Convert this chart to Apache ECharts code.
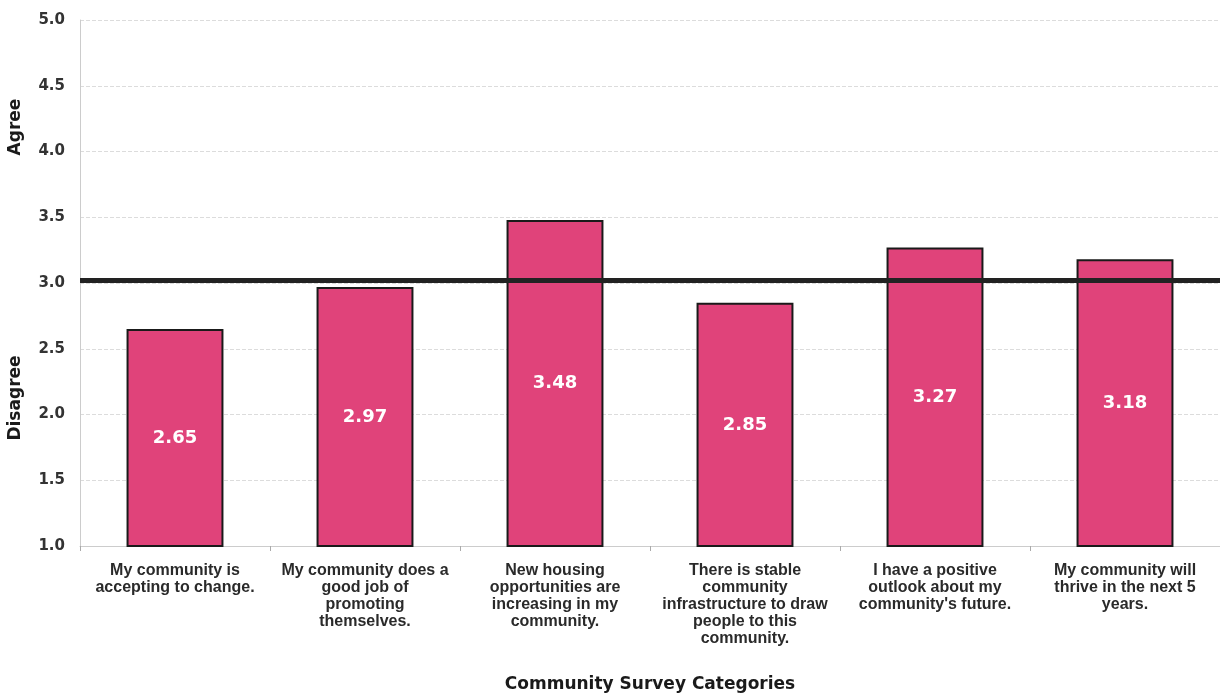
<!DOCTYPE html>
<html><head><meta charset="utf-8">
<script src="https://cdn.jsdelivr.net/npm/echarts@6/dist/echarts.min.js"></script>
<style>html,body{margin:0;padding:0;background:#fff}#c{width:1220px;height:695px}</style>
</head><body><div id="c"></div>
<script>
var categories = [
  "My community is\naccepting to change.",
  "My community does a\ngood job of\npromoting\nthemselves.",
  "New housing\nopportunities are\nincreasing in my\ncommunity.",
  "There is stable\ncommunity\ninfrastructure to draw\npeople to this\ncommunity.",
  "I have a positive\noutlook about my\ncommunity's future.",
  "My community will\nthrive in the next 5\nyears."
];
var values = [2.65, 2.97, 3.48, 2.85, 3.27, 3.18];
var neutralLine = 3.02;
var xAxisTitle = "Community Survey Categories";
var agreeLabel = "Agree";
var disagreeLabel = "Disagree";

var chart = echarts.init(document.getElementById('c'));
var wide = "'DejaVu Sans', sans-serif";
var lab = "'Liberation Sans', Arial, sans-serif";
chart.setOption({
  animation: false,
  grid: {left: 80, right: 0, top: 20, bottom: 149, outerBoundsMode: 'none', containLabel: false},
  xAxis: {
    type: 'category', data: categories,
    name: xAxisTitle, nameLocation: 'middle', nameGap: 130,
    nameTextStyle: {fontFamily: wide, fontWeight: 'bold', fontSize: 17, color: '#1a1a1a'},
    axisLine: {lineStyle: {color: '#ccc'}},
    axisTick: {show: true, length: 5, lineStyle: {color: '#aaa'}},
    axisLabel: {interval: 0, fontFamily: lab, fontWeight: 'bold', fontSize: 16, color: '#2a2a2a', lineHeight: 17, margin: 16}
  },
  yAxis: {
    type: 'value', min: 1, max: 5, interval: 0.5,
    axisLine: {show: true, lineStyle: {color: '#ccc'}},
    axisTick: {show: false},
    axisLabel: {formatter: function(v){return v.toFixed(1);}, fontFamily: wide, fontWeight: 'bold', fontSize: 15, color: '#333', margin: 15},
    splitLine: {lineStyle: {color: '#dcdcdc', type: 'dashed'}}
  },
  graphic: [
    {type: 'text', x: 16, y: 127, rotation: Math.PI/2,
     style: {text: agreeLabel, x: 0, y: 0, align: 'center', verticalAlign: 'middle', font: "bold 17px 'DejaVu Sans', sans-serif", fill: '#1a1a1a'}},
    {type: 'text', x: 16, y: 398, rotation: Math.PI/2,
     style: {text: disagreeLabel, x: 0, y: 0, align: 'center', verticalAlign: 'middle', font: "bold 17px 'DejaVu Sans', sans-serif", fill: '#1a1a1a'}}
  ],
  series: [{
    type: 'bar', data: values, barWidth: '51%',
    itemStyle: {color: '#E0437A', borderColor: '#1a1a1a', borderWidth: 2},
    label: {show: true, position: 'inside', formatter: function(p){return p.value.toFixed(2);}, fontFamily: wide, fontWeight: 'bold', fontSize: 18, color: '#fff'},
    markLine: {
      silent: true, symbol: 'none',
      lineStyle: {color: '#222', width: 5, type: 'solid'},
      label: {show: false},
      data: [{yAxis: neutralLine}]
    }
  }]
});
</script></body></html>
